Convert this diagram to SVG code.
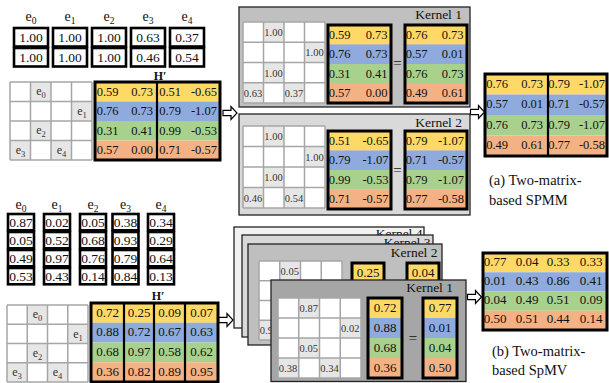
<svg xmlns="http://www.w3.org/2000/svg" width="609" height="383" viewBox="0 0 609 383">
<style>
text{font-family:"Liberation Serif","Times New Roman",serif;fill:#111}
.ev{font-size:13.5px;text-anchor:middle}
.lb{font-size:14px;text-anchor:middle}
.sub{font-size:9.5px}
.ec{fill:#fff;stroke:#000;stroke-width:2.6}
.grid{fill:none;stroke:#a6a6a6;stroke-width:1.5}
.gc{fill:#e7e6e6}
.sl{font-size:12px;text-anchor:middle;fill:#333}
.ss{font-size:8.5px}
.sv{font-size:10.5px;fill:#333}
.hv{font-size:12.5px;text-anchor:end}
.hc{font-size:13px;text-anchor:middle}
.hb{fill:none;stroke:#000;stroke-width:3}
.dv{stroke:#000;stroke-width:2.2}
.y{fill:#ffd966}.b{fill:#8faadc}.g{fill:#a9d18e}.o{fill:#f4b183}
.kp{stroke:#222;stroke-width:1.3}
.kt{font-size:13.5px;text-anchor:end}
.eq{font-size:15px;text-anchor:middle}
.hl{font-size:12px;font-weight:bold;text-anchor:middle}
.cap{font-size:14.5px}
.arr{fill:#fff;stroke:#000;stroke-width:1.2}
</style>
<defs>
<path id="ar" d="M0,-2.6H8V-6.5L14,0L8,6.5V2.6H0Z"/>
</defs>

<!-- (a) top e table -->
<g id="a-etable">
<text class="lb" x="31" y="21">e<tspan class="sub" dy="3">0</tspan></text>
<text class="lb" x="70" y="21">e<tspan class="sub" dy="3">1</tspan></text>
<text class="lb" x="109" y="21">e<tspan class="sub" dy="3">2</tspan></text>
<text class="lb" x="148" y="21">e<tspan class="sub" dy="3">3</tspan></text>
<text class="lb" x="187" y="21">e<tspan class="sub" dy="3">4</tspan></text>
<rect class="ec" x="14" y="28" width="34" height="18.5"/><rect class="ec" x="14" y="48" width="34" height="18.5"/>
<rect class="ec" x="53" y="28" width="34" height="18.5"/><rect class="ec" x="53" y="48" width="34" height="18.5"/>
<rect class="ec" x="92" y="28" width="34" height="18.5"/><rect class="ec" x="92" y="48" width="34" height="18.5"/>
<rect class="ec" x="131" y="28" width="34" height="18.5"/><rect class="ec" x="131" y="48" width="34" height="18.5"/>
<rect class="ec" x="170" y="28" width="34" height="18.5"/><rect class="ec" x="170" y="48" width="34" height="18.5"/>
<text class="ev" x="31" y="42">1.00</text><text class="ev" x="31" y="61.5">1.00</text>
<text class="ev" x="70" y="42">1.00</text><text class="ev" x="70" y="61.5">1.00</text>
<text class="ev" x="109" y="42">1.00</text><text class="ev" x="109" y="61.5">1.00</text>
<text class="ev" x="148" y="42">0.63</text><text class="ev" x="148" y="61.5">0.46</text>
<text class="ev" x="187" y="42">0.37</text><text class="ev" x="187" y="61.5">0.54</text>
</g>

<!-- (a) sparse adjacency -->
<g id="a-sparse">
<rect x="10" y="82" width="82" height="78" fill="#fff"/>
<rect class="gc" x="30.5" y="82" width="20.5" height="19.5"/>
<rect class="gc" x="71.5" y="101.5" width="20.5" height="19.5"/>
<rect class="gc" x="30.5" y="121" width="20.5" height="19.5"/>
<rect class="gc" x="10" y="140.5" width="20.5" height="19.5"/>
<rect class="gc" x="51" y="140.5" width="20.5" height="19.5"/>
<path class="grid" d="M10 82H92M10 101.5H92M10 121H92M10 140.5H92M10 160H92M10 82V160M30.5 82V160M51 82V160M71.5 82V160M92 82V160"/>
<text class="sl" x="41" y="95">e<tspan class="ss" dy="3">0</tspan></text>
<text class="sl" x="82" y="114.5">e<tspan class="ss" dy="3">1</tspan></text>
<text class="sl" x="41" y="134">e<tspan class="ss" dy="3">2</tspan></text>
<text class="sl" x="20.5" y="153.5">e<tspan class="ss" dy="3">3</tspan></text>
<text class="sl" x="61.5" y="153.5">e<tspan class="ss" dy="3">4</tspan></text>
</g>

<!-- (a) H' -->
<g id="a-H">
<text class="hl" x="160" y="80">H′</text>
<rect class="y" x="95" y="82" width="125" height="19.5"/>
<rect class="b" x="95" y="101.5" width="125" height="19.5"/>
<rect class="g" x="95" y="121" width="125" height="19.5"/>
<rect class="o" x="95" y="140.5" width="125" height="19.5"/>
<rect class="hb" x="95" y="82" width="125" height="78"/>
<line class="dv" x1="157" y1="82" x2="157" y2="160"/>
<text class="hv" x="118.5" y="95.5">0.59</text><text class="hv" x="153" y="95.5">0.73</text><text class="hv" x="181" y="95.5">0.51</text><text class="hv" x="217" y="95.5">-0.65</text>
<text class="hv" x="118.5" y="115">0.76</text><text class="hv" x="153" y="115">0.73</text><text class="hv" x="181" y="115">0.79</text><text class="hv" x="217" y="115">-1.07</text>
<text class="hv" x="118.5" y="134.5">0.31</text><text class="hv" x="153" y="134.5">0.41</text><text class="hv" x="181" y="134.5">0.99</text><text class="hv" x="217" y="134.5">-0.53</text>
<text class="hv" x="118.5" y="154">0.57</text><text class="hv" x="153" y="154">0.00</text><text class="hv" x="181" y="154">0.71</text><text class="hv" x="217" y="154">-0.57</text>
</g>

<!-- (a) Kernel 1 -->
<g id="a-kernel1">
<rect class="kp" x="239" y="7" width="231" height="100" fill="#c0c0c0"/>
<text class="kt" x="462" y="18.5">Kernel 1</text>
<rect x="243" y="22" width="82" height="81" fill="#fff"/>
<rect class="gc" x="263.5" y="22" width="20.5" height="20.25"/>
<rect class="gc" x="304.5" y="42.25" width="20.5" height="20.25"/>
<rect class="gc" x="263.5" y="62.5" width="20.5" height="20.25"/>
<rect class="gc" x="243" y="82.75" width="20.5" height="20.25"/>
<rect class="gc" x="284" y="82.75" width="20.5" height="20.25"/>
<path class="grid" d="M243 22H325M243 42.25H325M243 62.5H325M243 82.75H325M243 103H325M243 22V103M263.5 22V103M284 22V103M304.5 22V103M325 22V103"/>
<text class="sv" x="264.3" y="36">1.00</text>
<text class="sv" x="305.3" y="56.3">1.00</text>
<text class="sv" x="264.3" y="76.5">1.00</text>
<text class="sv" x="243.8" y="96.8">0.63</text>
<text class="sv" x="284.8" y="96.8">0.37</text>
<rect class="y" x="328" y="25" width="63" height="19.5"/><rect class="b" x="328" y="44.5" width="63" height="19.5"/><rect class="g" x="328" y="64" width="63" height="19.5"/><rect class="o" x="328" y="83.5" width="63" height="19.5"/>
<rect class="hb" x="328" y="25" width="63" height="78"/>
<text class="hv" x="350.5" y="38.5">0.59</text><text class="hv" x="387.5" y="38.5">0.73</text>
<text class="hv" x="350.5" y="58">0.76</text><text class="hv" x="387.5" y="58">0.73</text>
<text class="hv" x="350.5" y="77.5">0.31</text><text class="hv" x="387.5" y="77.5">0.41</text>
<text class="hv" x="350.5" y="97">0.57</text><text class="hv" x="387.5" y="97">0.00</text>
<text class="eq" x="397.5" y="68">=</text>
<rect class="y" x="405" y="25" width="62" height="19.5"/><rect class="b" x="405" y="44.5" width="62" height="19.5"/><rect class="g" x="405" y="64" width="62" height="19.5"/><rect class="o" x="405" y="83.5" width="62" height="19.5"/>
<rect class="hb" x="405" y="25" width="62" height="78"/>
<text class="hv" x="427.5" y="38.5">0.76</text><text class="hv" x="463.5" y="38.5">0.73</text>
<text class="hv" x="427.5" y="58">0.57</text><text class="hv" x="463.5" y="58">0.01</text>
<text class="hv" x="427.5" y="77.5">0.76</text><text class="hv" x="463.5" y="77.5">0.73</text>
<text class="hv" x="427.5" y="97">0.49</text><text class="hv" x="463.5" y="97">0.61</text>
</g>

<!-- (a) Kernel 2 -->
<g id="a-kernel2">
<rect class="kp" x="239" y="114" width="231" height="101" fill="#d9d9d9"/>
<text class="kt" x="462" y="127">Kernel 2</text>
<rect x="243" y="126" width="82" height="82" fill="#fff"/>
<rect class="gc" x="263.5" y="126" width="20.5" height="20.5"/>
<rect class="gc" x="304.5" y="146.5" width="20.5" height="20.5"/>
<rect class="gc" x="263.5" y="167" width="20.5" height="20.5"/>
<rect class="gc" x="243" y="187.5" width="20.5" height="20.5"/>
<rect class="gc" x="284" y="187.5" width="20.5" height="20.5"/>
<path class="grid" d="M243 126H325M243 146.5H325M243 167H325M243 187.5H325M243 208H325M243 126V208M263.5 126V208M284 126V208M304.5 126V208M325 126V208"/>
<text class="sv" x="264.3" y="140">1.00</text>
<text class="sv" x="305.3" y="160.5">1.00</text>
<text class="sv" x="264.3" y="181">1.00</text>
<text class="sv" x="243.8" y="201.5">0.46</text>
<text class="sv" x="284.8" y="201.5">0.54</text>
<rect class="y" x="328" y="131" width="63" height="19.5"/><rect class="b" x="328" y="150.5" width="63" height="19.5"/><rect class="g" x="328" y="170" width="63" height="19.5"/><rect class="o" x="328" y="189.5" width="63" height="19.5"/>
<rect class="hb" x="328" y="131" width="63" height="78"/>
<text class="hv" x="350.5" y="144.5">0.51</text><text class="hv" x="388.5" y="144.5">-0.65</text>
<text class="hv" x="350.5" y="164">0.79</text><text class="hv" x="388.5" y="164">-1.07</text>
<text class="hv" x="350.5" y="183.5">0.99</text><text class="hv" x="388.5" y="183.5">-0.53</text>
<text class="hv" x="350.5" y="203">0.71</text><text class="hv" x="388.5" y="203">-0.57</text>
<text class="eq" x="397.5" y="175">=</text>
<rect class="y" x="405" y="131" width="62" height="19.5"/><rect class="b" x="405" y="150.5" width="62" height="19.5"/><rect class="g" x="405" y="170" width="62" height="19.5"/><rect class="o" x="405" y="189.5" width="62" height="19.5"/>
<rect class="hb" x="405" y="131" width="62" height="78"/>
<text class="hv" x="427.5" y="144.5">0.79</text><text class="hv" x="464" y="144.5">-1.07</text>
<text class="hv" x="427.5" y="164">0.71</text><text class="hv" x="464" y="164">-0.57</text>
<text class="hv" x="427.5" y="183.5">0.79</text><text class="hv" x="464" y="183.5">-1.07</text>
<text class="hv" x="427.5" y="203">0.77</text><text class="hv" x="464" y="203">-0.58</text>
</g>

<!-- (a) result -->
<g id="a-result">
<rect class="y" x="485" y="74" width="122" height="20.5"/><rect class="b" x="485" y="94.5" width="122" height="20.5"/><rect class="g" x="485" y="115" width="122" height="20.5"/><rect class="o" x="485" y="135.5" width="122" height="20.5"/>
<rect class="hb" x="485" y="74" width="122" height="82"/>
<line class="dv" x1="548" y1="74" x2="548" y2="156"/>
<text class="hv" x="508" y="87.5">0.76</text><text class="hv" x="543" y="87.5">0.73</text><text class="hv" x="570" y="87.5">0.79</text><text class="hv" x="605" y="87.5">-1.07</text>
<text class="hv" x="508" y="108">0.57</text><text class="hv" x="543" y="108">0.01</text><text class="hv" x="570" y="108">0.71</text><text class="hv" x="605" y="108">-0.57</text>
<text class="hv" x="508" y="128.5">0.76</text><text class="hv" x="543" y="128.5">0.73</text><text class="hv" x="570" y="128.5">0.79</text><text class="hv" x="605" y="128.5">-1.07</text>
<text class="hv" x="508" y="149">0.49</text><text class="hv" x="543" y="149">0.61</text><text class="hv" x="570" y="149">0.77</text><text class="hv" x="605" y="149">-0.58</text>
<text class="cap" x="489" y="185">(a) Two-matrix-</text>
<text class="cap" x="489" y="205">based SPMM</text>
</g>

<!-- (b) e table -->
<g id="b-etable">
<text class="lb" x="21" y="209">e<tspan class="sub" dy="3">0</tspan></text>
<text class="lb" x="57" y="209">e<tspan class="sub" dy="3">1</tspan></text>
<text class="lb" x="93" y="209">e<tspan class="sub" dy="3">2</tspan></text>
<text class="lb" x="125.5" y="209">e<tspan class="sub" dy="3">3</tspan></text>
<text class="lb" x="161" y="209">e<tspan class="sub" dy="3">4</tspan></text>
<rect class="ec" x="8" y="214" width="26" height="16.3"/><rect class="ec" x="8" y="232" width="26" height="16.3"/><rect class="ec" x="8" y="250" width="26" height="16.3"/><rect class="ec" x="8" y="268" width="26" height="16.3"/>
<rect class="ec" x="44" y="214" width="26" height="16.3"/><rect class="ec" x="44" y="232" width="26" height="16.3"/><rect class="ec" x="44" y="250" width="26" height="16.3"/><rect class="ec" x="44" y="268" width="26" height="16.3"/>
<rect class="ec" x="80" y="214" width="26" height="16.3"/><rect class="ec" x="80" y="232" width="26" height="16.3"/><rect class="ec" x="80" y="250" width="26" height="16.3"/><rect class="ec" x="80" y="268" width="26" height="16.3"/>
<rect class="ec" x="112.5" y="214" width="26" height="16.3"/><rect class="ec" x="112.5" y="232" width="26" height="16.3"/><rect class="ec" x="112.5" y="250" width="26" height="16.3"/><rect class="ec" x="112.5" y="268" width="26" height="16.3"/>
<rect class="ec" x="148" y="214" width="26" height="16.3"/><rect class="ec" x="148" y="232" width="26" height="16.3"/><rect class="ec" x="148" y="250" width="26" height="16.3"/><rect class="ec" x="148" y="268" width="26" height="16.3"/>
<text class="ev" x="21" y="227">0.87</text><text class="ev" x="21" y="245">0.05</text><text class="ev" x="21" y="263">0.49</text><text class="ev" x="21" y="281">0.53</text>
<text class="ev" x="57" y="227">0.02</text><text class="ev" x="57" y="245">0.52</text><text class="ev" x="57" y="263">0.97</text><text class="ev" x="57" y="281">0.43</text>
<text class="ev" x="93" y="227">0.05</text><text class="ev" x="93" y="245">0.68</text><text class="ev" x="93" y="263">0.76</text><text class="ev" x="93" y="281">0.14</text>
<text class="ev" x="125.5" y="227">0.38</text><text class="ev" x="125.5" y="245">0.93</text><text class="ev" x="125.5" y="263">0.79</text><text class="ev" x="125.5" y="281">0.84</text>
<text class="ev" x="161" y="227">0.34</text><text class="ev" x="161" y="245">0.29</text><text class="ev" x="161" y="263">0.64</text><text class="ev" x="161" y="281">0.13</text>
</g>

<!-- (b) sparse adjacency -->
<g id="b-sparse">
<rect x="7" y="305" width="81" height="77" fill="#fff"/>
<rect class="gc" x="27.25" y="305" width="20.25" height="19.25"/>
<rect class="gc" x="67.75" y="324.25" width="20.25" height="19.25"/>
<rect class="gc" x="27.25" y="343.5" width="20.25" height="19.25"/>
<rect class="gc" x="7" y="362.75" width="20.25" height="19.25"/>
<rect class="gc" x="47.5" y="362.75" width="20.25" height="19.25"/>
<path class="grid" d="M7 305H88M7 324.25H88M7 343.5H88M7 362.75H88M7 382H88M7 305V382M27.25 305V382M47.5 305V382M67.75 305V382M88 305V382"/>
<text class="sl" x="37.5" y="318">e<tspan class="ss" dy="3">0</tspan></text>
<text class="sl" x="78" y="337.5">e<tspan class="ss" dy="3">1</tspan></text>
<text class="sl" x="37.5" y="356.5">e<tspan class="ss" dy="3">2</tspan></text>
<text class="sl" x="17" y="375.5">e<tspan class="ss" dy="3">3</tspan></text>
<text class="sl" x="57.5" y="375.5">e<tspan class="ss" dy="3">4</tspan></text>
</g>

<!-- (b) H' -->
<g id="b-H">
<text class="hl" x="158" y="300">H′</text>
<rect class="y" x="91" y="303" width="127" height="19.75"/><rect class="b" x="91" y="322.75" width="127" height="19.75"/><rect class="g" x="91" y="342.5" width="127" height="19.75"/><rect class="o" x="91" y="362.25" width="127" height="19.75"/>
<rect class="hb" x="91" y="303" width="127" height="79"/>
<path class="dv" d="M124 303V382M154 303V382M185 303V382"/>
<text class="hc" x="107.5" y="316.5">0.72</text><text class="hc" x="139" y="316.5">0.25</text><text class="hc" x="169.5" y="316.5">0.09</text><text class="hc" x="201.5" y="316.5">0.07</text>
<text class="hc" x="107.5" y="336.25">0.88</text><text class="hc" x="139" y="336.25">0.72</text><text class="hc" x="169.5" y="336.25">0.67</text><text class="hc" x="201.5" y="336.25">0.63</text>
<text class="hc" x="107.5" y="356">0.68</text><text class="hc" x="139" y="356">0.97</text><text class="hc" x="169.5" y="356">0.58</text><text class="hc" x="201.5" y="356">0.62</text>
<text class="hc" x="107.5" y="375.75">0.36</text><text class="hc" x="139" y="375.75">0.82</text><text class="hc" x="169.5" y="375.75">0.89</text><text class="hc" x="201.5" y="375.75">0.95</text>
</g>

<!-- (b) Kernel 4 -->
<g id="b-kernel4">
<rect class="kp" x="234" y="227" width="190" height="101" fill="#f2f2f2"/>
<text class="kt" x="422.5" y="238">Kernel 4</text>
</g>
<!-- (b) Kernel 3 -->
<g id="b-kernel3">
<rect class="kp" x="242" y="235" width="191" height="102" fill="#d9d9d9"/>
<text class="kt" x="430.5" y="246.5">Kernel 3</text>
</g>
<!-- (b) Kernel 2 -->
<g id="b-kernel2">
<rect class="kp" x="248" y="244" width="194" height="101" fill="#bfbfbf"/>
<text class="kt" x="437.5" y="257">Kernel 2</text>
<rect x="259" y="261" width="83" height="79" fill="#fff"/>
<rect class="gc" x="279.75" y="261" width="20.75" height="19.75"/>
<rect class="gc" x="259" y="320.25" width="20.75" height="19.75"/>
<path class="grid" d="M259 261H342M259 280.75H342M259 300.5H342M259 320.25H342M259 340H342M259 261V340M279.75 261V340M300.5 261V340M321.25 261V340M342 261V340"/>
<text class="sv" x="280.5" y="274.5">0.05</text>
<text class="sv" x="259.8" y="334">0.93</text>
<rect class="y" x="352" y="263" width="32" height="30"/><rect class="hb" x="352" y="263" width="32" height="30"/>
<text class="hc" x="368" y="277">0.25</text>
<rect class="y" x="407" y="263" width="32" height="30"/><rect class="hb" x="407" y="263" width="32" height="30"/>
<text class="hc" x="423" y="277">0.04</text>
</g>
<!-- (b) Kernel 1 -->
<g id="b-kernel1">
<rect class="kp" x="271" y="280" width="195" height="101.5" fill="#a6a6a6"/>
<text class="kt" x="453" y="292">Kernel 1</text>
<rect x="278" y="298" width="83" height="80" fill="#fff"/>
<rect class="gc" x="298.75" y="298" width="20.75" height="20"/>
<rect class="gc" x="340.25" y="318" width="20.75" height="20"/>
<rect class="gc" x="298.75" y="338" width="20.75" height="20"/>
<rect class="gc" x="278" y="358" width="20.75" height="20"/>
<rect class="gc" x="319.5" y="358" width="20.75" height="20"/>
<path class="grid" d="M278 298H361M278 318H361M278 338H361M278 358H361M278 378H361M278 298V378M298.75 298V378M319.5 298V378M340.25 298V378M361 298V378"/>
<text class="sv" x="299.5" y="312">0.87</text>
<text class="sv" x="341" y="332">0.02</text>
<text class="sv" x="299.5" y="352">0.05</text>
<text class="sv" x="278.8" y="372">0.38</text>
<text class="sv" x="320.3" y="372">0.34</text>
<rect class="y" x="368" y="298" width="34" height="20"/><rect class="b" x="368" y="318" width="34" height="20"/><rect class="g" x="368" y="338" width="34" height="20"/><rect class="o" x="368" y="358" width="34" height="20"/>
<rect class="hb" x="368" y="298" width="34" height="80"/>
<text class="hc" x="385" y="311.5">0.72</text><text class="hc" x="385" y="331.5">0.88</text><text class="hc" x="385" y="351.5">0.68</text><text class="hc" x="385" y="371.5">0.36</text>
<text class="eq" x="413" y="343">=</text>
<rect class="y" x="423" y="298" width="34" height="20"/><rect class="b" x="423" y="318" width="34" height="20"/><rect class="g" x="423" y="338" width="34" height="20"/><rect class="o" x="423" y="358" width="34" height="20"/>
<rect class="hb" x="423" y="298" width="34" height="80"/>
<text class="hc" x="440" y="311.5">0.77</text><text class="hc" x="440" y="331.5">0.01</text><text class="hc" x="440" y="351.5">0.04</text><text class="hc" x="440" y="371.5">0.50</text>
</g>

<!-- (b) result -->
<g id="b-result">
<rect class="y" x="483" y="253" width="124" height="19.25"/><rect class="b" x="483" y="272.25" width="124" height="19.25"/><rect class="g" x="483" y="291.5" width="124" height="19.25"/><rect class="o" x="483" y="310.75" width="124" height="19.25"/>
<rect class="hb" x="483" y="253" width="124" height="77"/>
<text class="hc" x="495" y="265.5">0.77</text><text class="hc" x="527" y="265.5">0.04</text><text class="hc" x="558" y="265.5">0.33</text><text class="hc" x="591" y="265.5">0.33</text>
<text class="hc" x="495" y="284.75">0.01</text><text class="hc" x="527" y="284.75">0.43</text><text class="hc" x="558" y="284.75">0.86</text><text class="hc" x="591" y="284.75">0.41</text>
<text class="hc" x="495" y="304">0.04</text><text class="hc" x="527" y="304">0.49</text><text class="hc" x="558" y="304">0.51</text><text class="hc" x="591" y="304">0.09</text>
<text class="hc" x="495" y="323.25">0.50</text><text class="hc" x="527" y="323.25">0.51</text><text class="hc" x="558" y="323.25">0.44</text><text class="hc" x="591" y="323.25">0.14</text>
<text class="cap" x="492" y="356">(b) Two-matrix-</text>
<text class="cap" x="492" y="375">based SpMV</text>
</g>

<!-- connectors -->
<g id="connectors">
<use href="#ar" class="arr" transform="translate(223,113)"/>
<use href="#ar" class="arr" transform="translate(470.5,112)"/>
<use href="#ar" class="arr" transform="translate(219,320)"/>
<use href="#ar" class="arr" transform="translate(467.5,297)"/>
</g>
</svg>
